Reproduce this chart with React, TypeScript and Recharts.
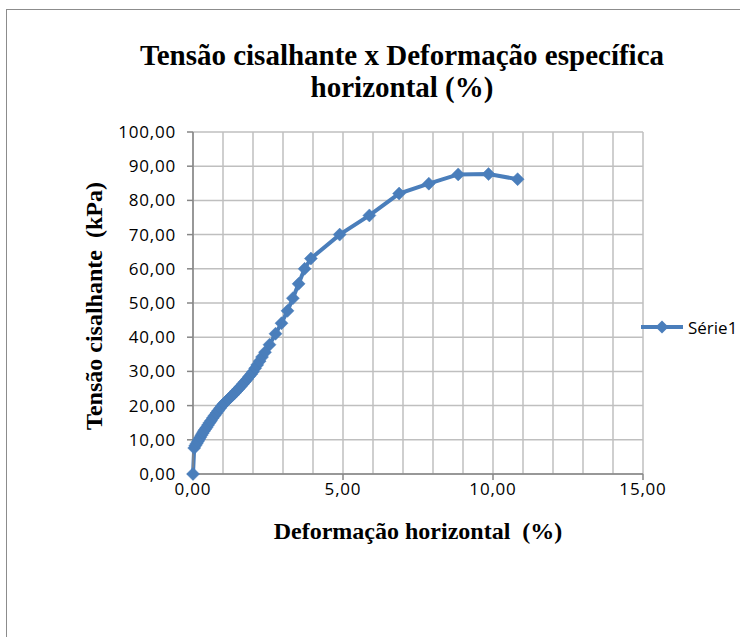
import React from 'react';
import { LineChart, Line, XAxis, YAxis, CartesianGrid } from 'recharts';

const seriesName = 'Série1';
const deformacao = [
  0, 0.04, 0.08, 0.12, 0.16, 0.2, 0.24, 0.28, 0.32, 0.36, 0.4, 0.45, 0.5, 0.55, 0.6,
  0.66, 0.72, 0.78, 0.84, 0.9, 0.96, 1.03, 1.1, 1.17, 1.24, 1.31, 1.38, 1.45, 1.52,
  1.59, 1.66, 1.73, 1.8, 1.87, 1.94, 2.0, 2.07, 2.14, 2.22, 2.3, 2.4, 2.55,
  2.75, 2.95, 3.15, 3.33, 3.52, 3.72, 3.93, 4.89, 5.88, 6.87, 7.86, 8.84, 9.85, 10.82,
];
const tensao = [
  0, 7.6, 8.3, 8.9, 9.5, 10.1, 10.7, 11.3, 11.9, 12.5, 13.0, 13.6, 14.3, 15.0, 15.6,
  16.4, 17.1, 17.8, 18.5, 19.2, 19.9, 20.6, 21.2, 21.8, 22.4, 23.0, 23.6, 24.3, 24.9,
  25.6, 26.3, 27.0, 27.7, 28.5, 29.2, 29.9, 30.9, 31.9, 33.0, 34.2, 35.6, 37.8,
  41.0, 44.1, 47.7, 51.4, 55.6, 60.0, 63.0, 70.0, 75.6, 82.0, 84.9, 87.6, 87.7, 86.2,
];
const xTicks = [0, 5, 10, 15];
const xGrid = [0, 1, 2, 3, 4, 5, 6, 7, 8, 9, 10, 11, 12, 13, 14, 15];
const yTicks = [0, 10, 20, 30, 40, 50, 60, 70, 80, 90, 100];

const data = deformacao.map((x, i) => ({ x, y: tensao[i] }));

const BLUE = '#4A7EBB';
const fmt = (v: number) => v.toFixed(2).replace('.', ',');

const Diamond = (props: any) => {
  const { cx, cy, index } = props;
  if (cx == null || cy == null) return null;
  const r = 6.5;
  return (
    <polygon
      key={`d-${index}`}
      points={`${cx},${cy - r} ${cx + r},${cy} ${cx},${cy + r} ${cx - r},${cy}`}
      fill={BLUE}
      stroke={BLUE}
      strokeWidth={0.5}
    />
  );
};

const tickStyle = { fill: '#000', fontFamily: 'Open Sans', fontSize: 17, letterSpacing: 0.8 };

export default function App() {
  return (
    <div
      style={{
        position: 'absolute',
        left: 0,
        top: 0,
        width: 740,
        height: 637,
        overflow: 'hidden',
        background: '#fff',
      }}
    >
      <div
        style={{
          position: 'absolute',
          left: 6,
          top: 9,
          width: 900,
          height: 800,
          border: '1px solid #8c8c8c',
        }}
      />
      <div
        style={{
          position: 'absolute',
          left: 402,
          top: 39,
          transform: 'translateX(-50%)',
          whiteSpace: 'nowrap',
          textAlign: 'center',
          fontFamily: '"Liberation Serif", serif',
          fontWeight: 900,
          fontSize: 29,
          lineHeight: '32px',
          color: '#000',
        }}
      >
        <div>Tensão cisalhante x Deformação específica</div>
        <div>horizontal (%)</div>
      </div>
      <div
        style={{
          position: 'absolute',
          left: 418,
          top: 518,
          transform: 'translateX(-50%)',
          whiteSpace: 'pre',
          fontFamily: '"Liberation Serif", serif',
          fontWeight: 'bold',
          fontSize: 24,
          color: '#000',
        }}
      >
        {'Deformação horizontal  (%)'}
      </div>
      <div
        style={{
          position: 'absolute',
          left: 94,
          top: 306,
          transform: 'translate(-50%, -50%) rotate(-90deg)',
          whiteSpace: 'pre',
          fontFamily: '"Liberation Serif", serif',
          fontWeight: 'bold',
          fontSize: 24,
          color: '#000',
        }}
      >
        {'Tensão cisalhante  (kPa)'}
      </div>
      <div style={{ position: 'absolute', left: 0, top: 0 }}>
        <LineChart
          width={740}
          height={637}
          data={data}
          margin={{ top: 132, right: 97, bottom: 133, left: 113 }}
        >
          <CartesianGrid
            stroke="#BFBFBF"
            strokeWidth={1.5}
            verticalValues={xGrid}
            horizontalValues={yTicks}
          />
          <XAxis
            type="number"
            dataKey="x"
            domain={[0, 15]}
            ticks={xTicks}
            interval={0}
            height={30}
            tickSize={6}
            tickMargin={3}
            tickFormatter={fmt}
            stroke="#868686"
            strokeWidth={1.5}
            tick={tickStyle}
          />
          <YAxis
            type="number"
            domain={[0, 100]}
            ticks={yTicks}
            interval={0}
            width={80}
            tickSize={6}
            tickMargin={11}
            tickFormatter={fmt}
            stroke="#868686"
            strokeWidth={1.5}
            tick={tickStyle}
          />
          <Line
            type="linear"
            dataKey="y"
            name={seriesName}
            stroke={BLUE}
            strokeWidth={4}
            dot={Diamond}
            activeDot={false}
            isAnimationActive={false}
          />
        </LineChart>
      </div>
      <div
        style={{
          position: 'absolute',
          left: 640,
          top: 315,
          display: 'flex',
          alignItems: 'center',
          whiteSpace: 'nowrap',
        }}
      >
        <svg width={44} height={24}>
          <line x1={1} y1={12} x2={43} y2={12} stroke={BLUE} strokeWidth={4} />
          <polygon points="22,5.5 28.5,12 22,18.5 15.5,12" fill={BLUE} />
        </svg>
        <span
          style={{
            marginLeft: 4,
            fontFamily: 'Open Sans',
            fontSize: 17,
            color: '#000',
          }}
        >
          {seriesName}
        </span>
      </div>
    </div>
  );
}
